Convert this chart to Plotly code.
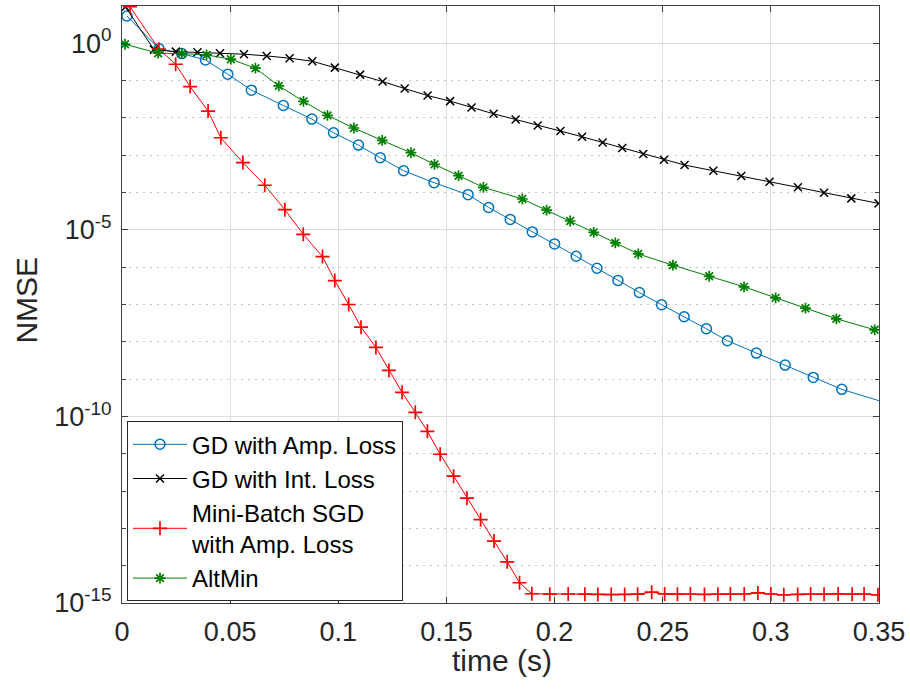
import plotly.graph_objects as go

# ---------------- data ----------------
t_gd_amp = [0.0023, 0.0171, 0.0276, 0.0386, 0.0489, 0.0598, 0.0746, 0.0878, 0.0978, 0.1093,
            0.1194, 0.1302, 0.1443, 0.1600, 0.1695, 0.1795, 0.1897, 0.2000, 0.2100, 0.2196,
            0.2293, 0.2392, 0.2495, 0.2599, 0.2702, 0.2799, 0.2933, 0.3066, 0.3196, 0.3328,
            0.3620]
nmse_gd_amp = [5.41, 0.719, 0.530, 0.359, 0.149, 5.56e-2, 2.15e-2, 9.31e-3, 4.00e-3, 1.87e-3,
               8.57e-4, 3.85e-4, 1.84e-4, 8.77e-5, 3.99e-5, 1.91e-5, 8.81e-6, 4.21e-6, 1.96e-6, 9.35e-7,
               4.39e-7, 2.09e-7, 9.82e-8, 4.69e-8, 2.24e-8, 1.07e-8, 4.98e-9, 2.38e-9, 1.11e-9, 5.32e-10,
               1.62e-10]

t_gd_int = [0.0016, 0.0148, 0.0249, 0.0349, 0.0453, 0.0564, 0.0669, 0.0775, 0.0880, 0.0984,
            0.1101, 0.1205, 0.1307, 0.1413, 0.1517, 0.1616, 0.1718, 0.1820, 0.1922, 0.2027,
            0.2127, 0.2222, 0.2313, 0.2410, 0.2506, 0.2601, 0.2734, 0.2863, 0.2994, 0.3125,
            0.3246, 0.3372, 0.3498]
nmse_gd_int = [9.40, 0.678, 0.598, 0.577, 0.543, 0.511, 0.459, 0.399, 0.331, 0.223,
               0.145, 9.44e-2, 6.12e-2, 3.98e-2, 2.82e-2, 1.90e-2, 1.29e-2, 9.08e-3, 6.27e-3, 4.45e-3,
               3.13e-3, 2.20e-3, 1.56e-3, 1.08e-3, 7.59e-4, 5.47e-4, 3.85e-4, 2.77e-4, 1.95e-4, 1.38e-4,
               9.93e-5, 6.98e-5, 5.13e-5]

t_sgd = [0.0037, 0.0171, 0.0248, 0.0315, 0.0398, 0.0457, 0.0559, 0.0660, 0.0753, 0.0838,
         0.0927, 0.0984, 0.1048, 0.1105, 0.1174, 0.1234, 0.1295, 0.1356, 0.1412, 0.1471,
         0.1533, 0.1595, 0.1658, 0.1720, 0.1781, 0.1838, 0.1895, 0.1978, 0.2063, 0.2140,
         0.2200, 0.2262, 0.2324, 0.2384, 0.2449, 0.2509, 0.2568, 0.2628, 0.2693, 0.2755,
         0.2813, 0.2877, 0.2940, 0.3000, 0.3060, 0.3124, 0.3184, 0.3246, 0.3311, 0.3376,
         0.3431, 0.3495]
nmse_sgd = [9.57, 0.695, 0.275, 6.93e-2, 1.53e-2, 2.94e-3, 6.38e-4, 1.57e-4, 3.48e-5, 7.60e-6,
            1.92e-6, 4.39e-7, 1.00e-7, 2.47e-8, 7.08e-9, 1.71e-9, 4.42e-10, 1.29e-10, 4.00e-11, 9.70e-12,
            2.50e-12, 6.44e-13, 1.71e-13, 4.56e-14, 1.27e-14, 3.49e-15, 1.77e-15, 1.72e-15, 1.74e-15, 1.72e-15,
            1.70e-15, 1.68e-15, 1.70e-15, 1.72e-15, 1.95e-15, 1.75e-15, 1.72e-15, 1.74e-15, 1.70e-15, 1.72e-15,
            1.73e-15, 1.74e-15, 1.86e-15, 1.74e-15, 1.66e-15, 1.70e-15, 1.74e-15, 1.72e-15, 1.75e-15, 1.72e-15,
            1.74e-15, 1.66e-15]

t_altmin = [0.0014, 0.0167, 0.0277, 0.0391, 0.0503, 0.0617, 0.0725, 0.0839, 0.0950, 0.1072,
            0.1203, 0.1336, 0.1445, 0.1556, 0.1671, 0.1851, 0.1963, 0.2072, 0.2181, 0.2281,
            0.2387, 0.2547, 0.2715, 0.2876, 0.3022, 0.3160, 0.3303, 0.3480]
nmse_altmin = [0.944, 0.543, 0.530, 0.489, 0.375, 0.215, 7.24e-2, 2.79e-2, 1.17e-2, 5.37e-3,
               2.49e-3, 1.17e-3, 5.68e-4, 2.83e-4, 1.38e-4, 6.73e-5, 3.37e-5, 1.73e-5, 8.59e-6, 4.48e-6,
               2.27e-6, 1.13e-6, 5.71e-7, 2.98e-7, 1.51e-7, 7.96e-8, 4.14e-8, 2.10e-8]

series_names = ["GD with Amp. Loss", "GD with Int. Loss",
                "Mini-Batch SGD<br>with Amp. Loss", "AltMin"]

x_tickvals = [0, 0.05, 0.1, 0.15, 0.2, 0.25, 0.3, 0.35]
x_ticktext = ["0", "0.05", "0.1", "0.15", "0.2", "0.25", "0.3", "0.35"]
y_tickvals = [1e-15, 1e-10, 1e-5, 1]
y_ticktext = ["10<sup>-15</sup>", "10<sup>-10</sup>", "10<sup>-5</sup>", "10<sup>0</sup>"]
y_minorvals = [10.0 ** k for k in range(-14, 1) if k % 5 != 0]

# ---------------- figure ----------------
FONT = "Liberation Sans, Arial, Helvetica, sans-serif"
AXC = "#262626"

fig = go.Figure()
fig.add_trace(go.Scatter(
    x=t_gd_amp, y=nmse_gd_amp, name=series_names[0], mode="lines+markers",
    line=dict(color="#0072BD", width=1),
    marker=dict(symbol="circle-open", size=10, color="#0072BD", line=dict(width=1.5, color="#0072BD"))))
fig.add_trace(go.Scatter(
    x=t_gd_int, y=nmse_gd_int, name=series_names[1], mode="lines+markers",
    line=dict(color="black", width=1),
    marker=dict(symbol="x-thin-open", size=8, color="black", line=dict(width=1.5, color="black"))))
fig.add_trace(go.Scatter(
    x=t_sgd, y=nmse_sgd, name=series_names[2], mode="lines+markers",
    line=dict(color="#FF0000", width=1),
    marker=dict(symbol="cross-thin-open", size=10, color="#FF0000", line=dict(width=1.7, color="#FF0000"))))
fig.add_trace(go.Scatter(
    x=t_altmin, y=nmse_altmin, name=series_names[3], mode="lines+markers",
    line=dict(color="#008000", width=1),
    marker=dict(symbol="asterisk-open", size=9, color="#008000", line=dict(width=1.7, color="#008000"))))

fig.update_layout(
    width=910, height=692,
    margin=dict(l=122, r=29, t=5, b=89),
    paper_bgcolor="white", plot_bgcolor="white",
    font=dict(family=FONT, color=AXC),
    showlegend=True,
    legend=dict(x=0.0066, y=0.003, xanchor="left", yanchor="bottom",
                bgcolor="white", bordercolor=AXC, borderwidth=1,
                font=dict(family=FONT, size=24, color="black"),
                itemwidth=54, tracegroupgap=0, traceorder="normal"),
    xaxis=dict(range=[0, 0.35], tickmode="array", tickvals=x_tickvals, ticktext=x_ticktext,
               showgrid=True, gridcolor="#dedede", gridwidth=1, zeroline=False,
               showline=True, linecolor="#404040", linewidth=1, mirror="ticks",
               ticks="inside", ticklen=6, tickcolor="#404040", ticklabelstandoff=5,
               tickfont=dict(family=FONT, size=27, color=AXC)),
    yaxis=dict(type="log", range=[-15, 1], tickmode="array", tickvals=y_tickvals, ticktext=y_ticktext,
               showgrid=True, gridcolor="#dedede", gridwidth=1, zeroline=False,
               showline=True, linecolor="#404040", linewidth=1, mirror="ticks",
               ticks="inside", ticklen=6, tickcolor="#404040", ticklabelstandoff=4,
               tickfont=dict(family=FONT, size=27, color=AXC),
               minor=dict(tickmode="array", tickvals=y_minorvals, ticks="inside", ticklen=4,
                          tickcolor="#404040", showgrid=True, gridcolor="#c4c4c4",
                          griddash="2px,5px", gridwidth=1)),
    annotations=[
        dict(text="time (s)", x=0.502, y=-0.097, xref="paper", yref="paper",
             xanchor="center", yanchor="middle", showarrow=False,
             font=dict(family=FONT, size=30, color=AXC)),
        dict(text="NMSE", x=-0.1265, y=0.507, xref="paper", yref="paper",
             xanchor="center", yanchor="middle", showarrow=False, textangle=-90,
             font=dict(family=FONT, size=30, color=AXC)),
    ],
)

fig.write_html("out.html")
